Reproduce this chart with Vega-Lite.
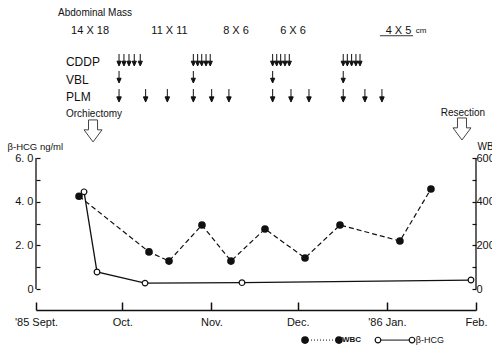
{
  "$schema": "https://vega.github.io/schema/vega-lite/v6.json",
  "width": 440,
  "height": 289,
  "autosize": {"type": "none"},
  "padding": {"left": 36, "top": 0, "right": 16, "bottom": 58},
  "background": "white",
  "config": {
    "view": {"stroke": null},
    "font": "Liberation Sans",
    "text": {"font": "Liberation Sans", "color": "#111"},
    "axis": {"labelFont": "Liberation Sans", "titleFont": "Liberation Sans", "labelColor": "#111", "titleColor": "#111", "domainColor": "#111", "tickColor": "#111", "grid": false}
  },
  "datasets": {
    "hcg": [
      {"date": "1985-09-17T17:00", "hcg": 4.45},
      {"date": "1985-09-22T05:00", "hcg": 0.78},
      {"date": "1985-10-08T22:00", "hcg": 0.27},
      {"date": "1985-11-11T15:00", "hcg": 0.29},
      {"date": "1986-01-30T06:00", "hcg": 0.41}
    ],
    "wbc": [
      {"date": "1985-09-15T23:00", "wbc": 4250},
      {"date": "1985-10-10T07:00", "wbc": 1700},
      {"date": "1985-10-17T06:00", "wbc": 1280},
      {"date": "1985-10-28T17:00", "wbc": 2930},
      {"date": "1985-11-07T19:00", "wbc": 1280},
      {"date": "1985-11-19T15:00", "wbc": 2750},
      {"date": "1985-12-03T13:00", "wbc": 1420},
      {"date": "1985-12-15T17:00", "wbc": 2930},
      {"date": "1986-01-05T13:00", "wbc": 2200},
      {"date": "1986-01-16T08:00", "wbc": 4580}
    ],
    "cddp": [
      {"date": "1985-09-29T21:00"}, {"date": "1985-10-01T14:00"}, {"date": "1985-10-03T08:00"}, {"date": "1985-10-05T04:00"}, {"date": "1985-10-07T06:00"},
      {"date": "1985-10-25T17:00"}, {"date": "1985-10-27T05:00"}, {"date": "1985-10-28T15:00"}, {"date": "1985-10-30T03:00"}, {"date": "1985-10-31T14:00"},
      {"date": "1985-11-22T07:00"}, {"date": "1985-11-23T17:00"}, {"date": "1985-11-25T02:00"}, {"date": "1985-11-26T14:00"}, {"date": "1985-11-28T02:00"},
      {"date": "1985-12-16T20:00"}, {"date": "1985-12-18T06:00"}, {"date": "1985-12-19T18:00"}, {"date": "1985-12-21T06:00"}, {"date": "1985-12-22T16:00"}
    ],
    "vbl": [
      {"date": "1985-09-29T21:00"}, {"date": "1985-10-25T17:00"}, {"date": "1985-11-22T07:00"}, {"date": "1985-12-16T20:00"}
    ],
    "plm": [
      {"date": "1985-09-29T21:00"}, {"date": "1985-10-09T03:00"}, {"date": "1985-10-16T16:00"},
      {"date": "1985-10-25T17:00"}, {"date": "1985-11-01T02:00"}, {"date": "1985-11-07T02:00"},
      {"date": "1985-11-22T07:00"}, {"date": "1985-11-28T16:00"}, {"date": "1985-12-04T22:00"},
      {"date": "1985-12-16T20:00"}, {"date": "1985-12-24T09:00"}, {"date": "1985-12-30T07:00"}
    ],
    "mass": [
      {"date": "1985-09-19T19:00", "label": "14 X 18"},
      {"date": "1985-10-17T10:00", "label": "11 X 11"},
      {"date": "1985-11-09T13:00", "label": "8 X 6"},
      {"date": "1985-11-29T09:00", "label": "6 X 6"},
      {"date": "1986-01-05T01:00", "label": "4 X 5"}
    ],
    "one": [{}]
  },
  "layer": [
    {
      "layer": [
        {
          "data": {"name": "hcg"},
          "mark": {"type": "line", "color": "#111", "strokeWidth": 1.3},
          "encoding": {
            "x": {
              "field": "date", "type": "temporal",
              "scale": {"domain": [{"year": 1985, "month": 9, "date": 1}, {"year": 1986, "month": 2, "date": 1}], "nice": false},
              "axis": {
                "values": [{"year": 1985, "month": 9, "date": 1}, {"year": 1985, "month": 10, "date": 1}, {"year": 1985, "month": 11, "date": 1}, {"year": 1985, "month": 12, "date": 1}, {"year": 1986, "month": 1, "date": 1}, {"year": 1986, "month": 2, "date": 1}],
                "labelExpr": "[\"'86 Jan.\",\"Feb.\",\"\",\"\",\"\",\"\",\"\",\"\",\"'85 Sept.\",\"Oct.\",\"Nov.\",\"Dec.\"][month(datum.value)]",
                "offset": 21, "tickSize": -8, "tickWidth": 1.5, "domainWidth": 1.5,
                "labelFontSize": 11, "labelPadding": 14, "labelFlush": false, "labelOverlap": false,
                "title": null
              }
            },
            "y": {
              "field": "hcg", "type": "quantitative",
              "scale": {"domain": [0, 13.237], "nice": false, "zero": false},
              "axis": {
                "values": [0, 1, 2, 3, 4, 5, 6],
                "labelExpr": "datum.value == 0 ? '0' : (datum.value % 2 == 0 ? datum.value + '. 0' : '')",
                "domain": false, "tickSize": -4, "tickWidth": 1.2,
                "labelFontSize": 11, "labelPadding": 7,
                "title": "β-HCG ng/ml", "titleAngle": 0, "titleAlign": "left", "titleBaseline": "middle",
                "titleX": -29, "titleY": 146, "titleFontSize": 9.5, "titleFontWeight": "normal"
              }
            }
          }
        },
        {
          "data": {"name": "hcg"},
          "mark": {"type": "point", "shape": "circle", "filled": true, "fill": "white", "stroke": "#111", "strokeWidth": 1.2, "size": 32, "opacity": 1},
          "encoding": {
            "x": {"field": "date", "type": "temporal"},
            "y": {"field": "hcg", "type": "quantitative"}
          }
        },
        {
          "data": {"name": "one"},
          "mark": {"type": "rule", "color": "#111", "strokeWidth": 1.3},
          "encoding": {
            "x": {"datum": {"year": 1985, "month": 9, "date": 1}, "type": "temporal"},
            "y": {"datum": 0, "type": "quantitative"},
            "y2": {"datum": 6}
          }
        },
        {
          "data": {"name": "one"},
          "mark": {"type": "rule", "color": "#111", "strokeWidth": 1.3},
          "encoding": {
            "x": {"datum": {"year": 1986, "month": 2, "date": 1}, "type": "temporal"},
            "y": {"datum": 0, "type": "quantitative"},
            "y2": {"datum": 6}
          }
        },
        {
          "data": {"name": "one"},
          "mark": {"type": "text", "text": "Abdominal Mass", "align": "left", "baseline": "middle", "fontSize": 10},
          "encoding": {
            "x": {"datum": {"year": 1985, "month": 9, "date": 8, "hours": 16}, "type": "temporal"},
            "y": {"datum": 12.64, "type": "quantitative"}
          }
        },
        {
          "data": {"name": "mass"},
          "mark": {"type": "text", "align": "center", "baseline": "middle", "fontSize": 11},
          "encoding": {
            "x": {"field": "date", "type": "temporal"},
            "y": {"datum": 11.82, "type": "quantitative"},
            "text": {"field": "label"}
          }
        },
        {
          "data": {"name": "one"},
          "mark": {"type": "text", "text": "cm", "align": "center", "baseline": "middle", "fontSize": 8},
          "encoding": {
            "x": {"datum": {"year": 1986, "month": 1, "date": 12, "hours": 22}, "type": "temporal"},
            "y": {"datum": 11.8, "type": "quantitative"}
          }
        },
        {
          "data": {"name": "one"},
          "mark": {"type": "rule", "color": "#333", "strokeWidth": 1},
          "encoding": {
            "x": {"datum": {"year": 1985, "month": 12, "date": 29, "hours": 14}, "type": "temporal"},
            "x2": {"datum": {"year": 1986, "month": 1, "date": 10, "hours": 2}},
            "y": {"datum": 11.6, "type": "quantitative"}
          }
        },
        {
          "data": {"name": "one"},
          "mark": {"type": "text", "text": "CDDP", "align": "left", "baseline": "middle", "fontSize": 12},
          "encoding": {
            "x": {"datum": {"year": 1985, "month": 9, "date": 11, "hours": 10}, "type": "temporal"},
            "y": {"datum": 10.4, "type": "quantitative"}
          }
        },
        {
          "data": {"name": "one"},
          "mark": {"type": "text", "text": "VBL", "align": "left", "baseline": "middle", "fontSize": 12},
          "encoding": {
            "x": {"datum": {"year": 1985, "month": 9, "date": 11, "hours": 10}, "type": "temporal"},
            "y": {"datum": 9.57, "type": "quantitative"}
          }
        },
        {
          "data": {"name": "one"},
          "mark": {"type": "text", "text": "PLM", "align": "left", "baseline": "middle", "fontSize": 12},
          "encoding": {
            "x": {"datum": {"year": 1985, "month": 9, "date": 11, "hours": 10}, "type": "temporal"},
            "y": {"datum": 8.8, "type": "quantitative"}
          }
        },
        {
          "data": {"name": "one"},
          "mark": {"type": "text", "text": "Orchiectomy", "align": "left", "baseline": "middle", "fontSize": 10},
          "encoding": {
            "x": {"datum": {"year": 1985, "month": 9, "date": 11, "hours": 10}, "type": "temporal"},
            "y": {"datum": 8.02, "type": "quantitative"}
          }
        },
        {
          "data": {"name": "one"},
          "mark": {"type": "text", "text": "Resection", "align": "center", "baseline": "middle", "fontSize": 10},
          "encoding": {
            "x": {"datum": {"year": 1986, "month": 1, "date": 27, "hours": 11}, "type": "temporal"},
            "y": {"datum": 8.06, "type": "quantitative"}
          }
        },
        {
          "data": {"name": "cddp"},
          "mark": {"type": "point", "shape": "M0,-1L0,0.3M-0.35,0.2L0,1L0.35,0.2Z", "filled": true, "fill": "#111", "stroke": "#111", "strokeWidth": 1, "size": 144, "opacity": 1},
          "encoding": {
            "x": {"field": "date", "type": "temporal"},
            "y": {"datum": 10.49, "type": "quantitative"}
          }
        },
        {
          "data": {"name": "vbl"},
          "mark": {"type": "point", "shape": "M0,-1L0,0.3M-0.35,0.2L0,1L0.35,0.2Z", "filled": true, "fill": "#111", "stroke": "#111", "strokeWidth": 1, "size": 144, "opacity": 1},
          "encoding": {
            "x": {"field": "date", "type": "temporal"},
            "y": {"datum": 9.71, "type": "quantitative"}
          }
        },
        {
          "data": {"name": "plm"},
          "mark": {"type": "point", "shape": "M0,-1L0,0.3M-0.35,0.2L0,1L0.35,0.2Z", "filled": true, "fill": "#111", "stroke": "#111", "strokeWidth": 1, "size": 169, "opacity": 1},
          "encoding": {
            "x": {"field": "date", "type": "temporal"},
            "y": {"datum": 8.86, "type": "quantitative"}
          }
        },
        {
          "data": {"name": "one"},
          "mark": {"type": "point", "shape": "M-0.41,-1L0.41,-1L0.41,-0.1L0.82,-0.1L0,1L-0.82,-0.1L-0.41,-0.1Z", "filled": true, "fill": "white", "stroke": "#444", "strokeWidth": 1, "size": 484, "opacity": 1},
          "encoding": {
            "x": {"datum": {"year": 1985, "month": 9, "date": 20, "hours": 20}, "type": "temporal"},
            "y": {"datum": 7.24, "type": "quantitative"}
          }
        },
        {
          "data": {"name": "one"},
          "mark": {"type": "point", "shape": "M-0.41,-1L0.41,-1L0.41,-0.1L0.82,-0.1L0,1L-0.82,-0.1L-0.41,-0.1Z", "filled": true, "fill": "white", "stroke": "#444", "strokeWidth": 1, "size": 484, "opacity": 1},
          "encoding": {
            "x": {"datum": {"year": 1986, "month": 1, "date": 27, "hours": 3}, "type": "temporal"},
            "y": {"datum": 7.33, "type": "quantitative"}
          }
        },
        {
          "data": {"name": "one"},
          "mark": {"type": "rule", "color": "#111", "strokeWidth": 1, "strokeDash": [1, 2]},
          "encoding": {
            "x": {"datum": {"year": 1985, "month": 12, "date": 3, "hours": 13}, "type": "temporal"},
            "x2": {"datum": {"year": 1985, "month": 12, "date": 15, "hours": 8}},
            "y": {"datum": -2.34, "type": "quantitative"}
          }
        },
        {
          "data": {"name": "one"},
          "mark": {"type": "point", "shape": "circle", "filled": true, "fill": "#111", "stroke": "#111", "size": 32, "opacity": 1},
          "encoding": {
            "x": {"datum": {"year": 1985, "month": 12, "date": 3, "hours": 13}, "type": "temporal"},
            "y": {"datum": -2.34, "type": "quantitative"}
          }
        },
        {
          "data": {"name": "one"},
          "mark": {"type": "point", "shape": "circle", "filled": true, "fill": "#111", "stroke": "#111", "size": 32, "opacity": 1},
          "encoding": {
            "x": {"datum": {"year": 1985, "month": 12, "date": 15, "hours": 8}, "type": "temporal"},
            "y": {"datum": -2.34, "type": "quantitative"}
          }
        },
        {
          "data": {"name": "one"},
          "mark": {"type": "text", "text": "WBC", "align": "left", "baseline": "middle", "fontSize": 8, "fontWeight": "bold"},
          "encoding": {
            "x": {"datum": {"year": 1985, "month": 12, "date": 16, "hours": 10}, "type": "temporal"},
            "y": {"datum": -2.34, "type": "quantitative"}
          }
        },
        {
          "data": {"name": "one"},
          "mark": {"type": "rule", "color": "#111", "strokeWidth": 1},
          "encoding": {
            "x": {"datum": {"year": 1985, "month": 12, "date": 28, "hours": 22}, "type": "temporal"},
            "x2": {"datum": {"year": 1986, "month": 1, "date": 9, "hours": 18}},
            "y": {"datum": -2.34, "type": "quantitative"}
          }
        },
        {
          "data": {"name": "one"},
          "mark": {"type": "point", "shape": "circle", "filled": true, "fill": "white", "stroke": "#111", "strokeWidth": 1.2, "size": 32, "opacity": 1},
          "encoding": {
            "x": {"datum": {"year": 1985, "month": 12, "date": 28, "hours": 22}, "type": "temporal"},
            "y": {"datum": -2.34, "type": "quantitative"}
          }
        },
        {
          "data": {"name": "one"},
          "mark": {"type": "point", "shape": "circle", "filled": true, "fill": "white", "stroke": "#111", "strokeWidth": 1.2, "size": 32, "opacity": 1},
          "encoding": {
            "x": {"datum": {"year": 1986, "month": 1, "date": 9, "hours": 18}, "type": "temporal"},
            "y": {"datum": -2.34, "type": "quantitative"}
          }
        },
        {
          "data": {"name": "one"},
          "mark": {"type": "text", "text": "β-HCG", "align": "left", "baseline": "middle", "fontSize": 9},
          "encoding": {
            "x": {"datum": {"year": 1986, "month": 1, "date": 11, "hours": 2}, "type": "temporal"},
            "y": {"datum": -2.34, "type": "quantitative"}
          }
        }
      ]
    },
    {
      "layer": [
        {
          "data": {"name": "wbc"},
          "mark": {"type": "line", "color": "#111", "strokeWidth": 1.2, "strokeDash": [5, 3]},
          "encoding": {
            "x": {"field": "date", "type": "temporal"},
            "y": {
              "field": "wbc", "type": "quantitative",
              "scale": {"domain": [0, 13237], "nice": false, "zero": false},
              "axis": {
                "orient": "right",
                "values": [0, 1000, 2000, 3000, 4000, 5000, 6000],
                "labelExpr": "datum.value % 2000 == 0 ? datum.value + '' : ''",
                "domain": false, "tickSize": -4, "tickWidth": 1.2,
                "labelFontSize": 11, "labelPadding": 4,
                "title": "WBC", "titleAngle": 0, "titleAlign": "left", "titleBaseline": "middle",
                "titleX": 1, "titleY": 146, "titleFontSize": 10, "titleFontWeight": "normal"
              }
            }
          }
        },
        {
          "data": {"name": "wbc"},
          "mark": {"type": "point", "shape": "circle", "filled": true, "fill": "#111", "stroke": "#111", "size": 32, "opacity": 1},
          "encoding": {
            "x": {"field": "date", "type": "temporal"},
            "y": {"field": "wbc", "type": "quantitative"}
          }
        }
      ]
    }
  ],
  "resolve": {"scale": {"y": "independent"}, "axis": {"y": "independent"}}
}
